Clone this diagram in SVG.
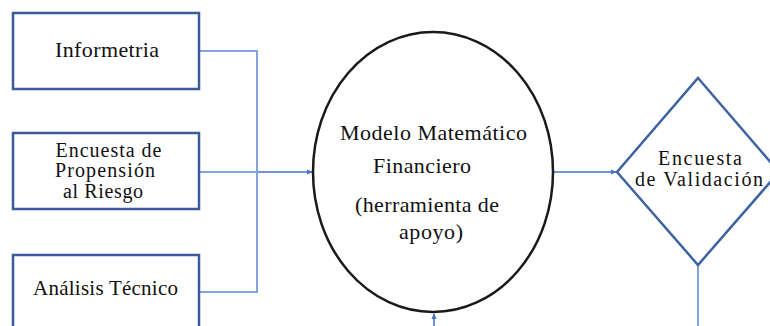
<svg xmlns="http://www.w3.org/2000/svg" width="770" height="326" viewBox="0 0 770 326">
<style>
.box{fill:#fff;stroke:#3B5B9C;stroke-width:2.5}
.ell{fill:#fff;stroke:#1a1a1a;stroke-width:2.5}
.dia{fill:#fff;stroke:#3F62A3;stroke-width:2.5}
.c{fill:none;stroke:#86A4DC;stroke-width:2}
.ca{fill:none;stroke:#6F93D6;stroke-width:2}
.t{font-family:'Liberation Serif','Times New Roman',serif;fill:#111;text-anchor:middle}
</style>
<defs>
<marker id="ah" markerWidth="6" markerHeight="6" refX="5" refY="3" orient="auto" markerUnits="userSpaceOnUse">
<path d="M0,0.5 L6,3 L0,5.5 z" fill="#4A73C4"/>
</marker>
</defs>
<g id="connectors">
<path class="c" d="M199,51 H257 V292 H199"/>
<path class="c" d="M199,172 H257"/>
<path class="ca" d="M257,172 H312" marker-end="url(#ah)"/>
<path class="ca" d="M553,172 H616" marker-end="url(#ah)"/>
<path class="c" d="M698,265 V326"/>
<path class="ca" d="M434,326 V314" marker-end="url(#ah)"/>
</g>
<g id="informetria">
<rect class="box" x="13" y="13" width="186" height="76"/>
<text class="t" x="107" y="57" font-size="22" textLength="104" lengthAdjust="spacing">Informetria</text>
</g>
<g id="encuesta-propension">
<rect class="box" x="13" y="133" width="186" height="76"/>
<text class="t" x="108.5" y="157" font-size="20" textLength="106" lengthAdjust="spacing">Encuesta de</text>
<text class="t" x="105" y="177" font-size="20" textLength="100" lengthAdjust="spacing">Propensión</text>
<text class="t" x="103" y="198" font-size="20" textLength="80" lengthAdjust="spacing">al Riesgo</text>
</g>
<g id="analisis-tecnico">
<rect class="box" x="13" y="255" width="186" height="80"/>
<text class="t" x="105.5" y="295" font-size="21" textLength="145" lengthAdjust="spacing">Análisis Técnico</text>
</g>
<g id="modelo">
<ellipse class="ell" cx="433" cy="172" rx="120" ry="140"/>
<text class="t" x="433.5" y="140" font-size="22" textLength="187" lengthAdjust="spacing">Modelo Matemático</text>
<text class="t" x="422" y="173" font-size="22" textLength="98" lengthAdjust="spacing">Financiero</text>
<text class="t" x="427" y="212" font-size="22" textLength="144" lengthAdjust="spacing">(herramienta de</text>
<text class="t" x="431" y="239" font-size="22" textLength="64" lengthAdjust="spacing">apoyo)</text>
</g>
<g id="encuesta-validacion">
<polygon class="dia" points="698,78 779,172 698,265 617,172"/>
<text class="t" x="700" y="165" font-size="20" textLength="84" lengthAdjust="spacing">Encuesta</text>
<text class="t" x="699" y="186" font-size="20" textLength="128" lengthAdjust="spacing">de Validación</text>
</g>
</svg>
